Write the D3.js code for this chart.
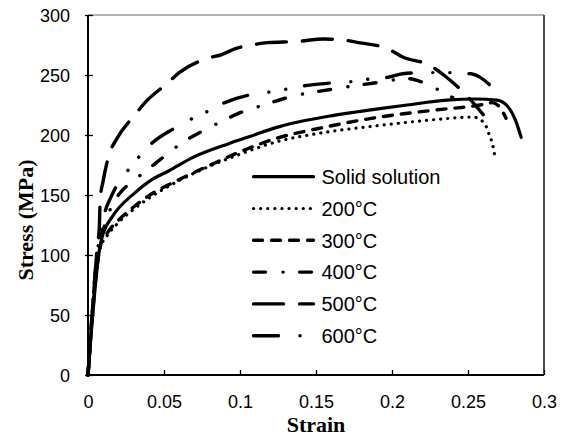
<!DOCTYPE html>
<html>
<head>
<meta charset="utf-8">
<script src="https://cdn.jsdelivr.net/npm/d3@7"></script>
<style>
  body { margin: 0; background: #fff; }
  .tick text { font-family: "Liberation Sans", Arial, sans-serif; font-size: 18px; fill: #000; }
  .axis-title { font-family: "Liberation Serif", "Times New Roman", serif; font-weight: bold; font-size: 22px; }
  .legend text { font-family: "Liberation Sans", Arial, sans-serif; font-size: 20px; }
</style>
</head>
<body>
<svg id="chart"></svg>
<script>
// data: [strain, stress MPa]
const solidSolution = [[0,0],[0.008,108],[0.01,118],[0.016,132],[0.031,152],[0.041,162],[0.053,170],[0.07,182],[0.093,193],[0.107,199],[0.126,207],[0.139,211],[0.16,216],[0.192,222],[0.21,225],[0.236,229],[0.255,230],[0.269,229],[0.276,224],[0.281,213],[0.285,198]];
const t200 = [[0,0],[0.008,106],[0.012,115],[0.02,127],[0.03,138],[0.042,149],[0.06,162],[0.08,174],[0.1,184],[0.126,195],[0.15,201],[0.192,208],[0.23,213],[0.253,215],[0.259,212],[0.262,207],[0.264,200],[0.266,193],[0.267,187],[0.268,179]];
const t300 = [[0,0],[0.008,107],[0.012,117],[0.02,129],[0.03,140],[0.042,151],[0.057,161],[0.077,173],[0.1,186],[0.126,198],[0.15,205],[0.192,215],[0.23,221],[0.258,225],[0.266,227],[0.271,223],[0.275,214]];
const t400 = [[0,0],[0.007,108],[0.01,121],[0.016,142],[0.022,153],[0.031,163],[0.039,171],[0.047,179],[0.054,186],[0.0625,194],[0.075,203],[0.089,212],[0.099,218],[0.108,222],[0.118,226],[0.128,230],[0.137,233],[0.16,238],[0.192,244],[0.21,247],[0.22,244],[0.23,238],[0.24,231]];
const t500 = [[0,0],[0.006,105],[0.0075,125],[0.008,146],[0.01,162],[0.014,184],[0.019,197],[0.031,217],[0.0375,227],[0.053,244],[0.06,252],[0.079,264],[0.088,267],[0.097,272],[0.108,275],[0.118,277],[0.138,278],[0.155,280],[0.169,279],[0.178,277],[0.197,272],[0.207,265],[0.225,258],[0.234,250],[0.249,233],[0.26,217]];
const t600 = [[0,0],[0.007,110],[0.009,122],[0.011,135],[0.015,148],[0.02,160],[0.026,170],[0.033,181],[0.041,192],[0.056,205],[0.066,212],[0.076,218],[0.09,227],[0.105,233],[0.115,235],[0.126,237],[0.137,240],[0.157,243],[0.177,245],[0.187,247],[0.197,248],[0.207,251],[0.22,252],[0.236,252],[0.252,251],[0.258,248],[0.264,242]];

const seriesNames = ["Solid solution", "200°C", "300°C", "400°C", "500°C", "600°C"];
const seriesData = [solidSolution, t200, t300, t400, t500, t600];
const xTicks = [0, 0.05, 0.1, 0.15, 0.2, 0.25, 0.3];
const yTicks = [0, 50, 100, 150, 200, 250, 300];

// line styles per series (round caps)
const dashes = [null, "0.1 7", "9 9", "12 17.5 0.1 16.4", "30 16", "25 21.5 0.1 17 0.1 19"];
const widths = [3.2, 3.2, 3.4, 3.4, 3.4, 3.4];

const margin = { top: 15, right: 20, bottom: 63, left: 88 };
const width = 564 - margin.left - margin.right;
const height = 438 - margin.top - margin.bottom;

const root = d3.select("#chart")
    .attr("width", 564)
    .attr("height", 438);

const svg = root.append("g")
    .attr("transform", `translate(${margin.left},${margin.top})`);

const x = d3.scaleLinear().domain([0, 0.3]).range([0, width]);
const y = d3.scaleLinear().domain([0, 300]).range([height, 0]);

// frame: thin top, right; heavier axes
svg.append("line").attr("x1", 0).attr("x2", width).attr("y1", 0).attr("y2", 0)
    .attr("stroke", "#666").attr("stroke-width", 1);
svg.append("line").attr("x1", width).attr("x2", width).attr("y1", 0).attr("y2", height)
    .attr("stroke", "#222").attr("stroke-width", 1.6);

const xAxis = svg.append("g")
    .attr("transform", `translate(0,${height})`)
    .call(d3.axisBottom(x).tickValues(xTicks).tickSize(-5).tickPadding(20).tickFormat(d3.format("")));
xAxis.select(".domain").remove();
xAxis.selectAll(".tick line").attr("stroke", "#000").attr("stroke-width", 1.3);

const yAxis = svg.append("g")
    .call(d3.axisLeft(y).tickValues(yTicks).tickSize(3).tickPadding(15));
yAxis.select(".domain").remove();
yAxis.selectAll(".tick line").attr("x2", -3).attr("x1", 5).attr("stroke", "#000").attr("stroke-width", 1.3);
yAxis.selectAll(".tick text").attr("dy", "0.36em");

svg.append("line").attr("x1", 0).attr("x2", width).attr("y1", height).attr("y2", height)
    .attr("stroke", "#000").attr("stroke-width", 2);
svg.append("line").attr("x1", 0).attr("x2", 0).attr("y1", 0).attr("y2", height)
    .attr("stroke", "#000").attr("stroke-width", 2);

const line = d3.line()
    .x(d => x(d[0]))
    .y(d => y(d[1]))
    .curve(d3.curveMonotoneX);

seriesData.forEach((data, i) => {
    svg.append("path")
        .datum(data)
        .attr("d", line)
        .attr("fill", "none")
        .attr("stroke", "#000")
        .attr("stroke-width", widths[i])
        .attr("stroke-linecap", "round")
        .attr("stroke-linejoin", "round")
        .attr("stroke-dasharray", dashes[i]);
});

// legend
const legend = svg.append("g").attr("class", "legend")
    .attr("transform", `translate(${253.5 - margin.left},${176.7 - margin.top})`);

seriesNames.forEach((name, i) => {
    const row = legend.append("g").attr("transform", `translate(0,${i * 31.8})`);
    row.append("line")
        .attr("x1", 0).attr("x2", 60)
        .attr("stroke", "#000")
        .attr("stroke-width", widths[i])
        .attr("stroke-linecap", "round")
        .attr("stroke-dasharray", dashes[i]);
    row.append("text")
        .attr("x", 68)
        .attr("dy", "0.36em")
        .text(name);
});

svg.append("text")
    .attr("class", "axis-title")
    .attr("text-anchor", "middle")
    .attr("x", width / 2)
    .attr("y", height + 57)
    .text("Strain");

svg.append("text")
    .attr("class", "axis-title")
    .attr("text-anchor", "middle")
    .attr("transform", `translate(${33 - margin.left},${220 - margin.top}) rotate(-90)`)
    .text("Stress (MPa)");
</script>
</body>
</html>
